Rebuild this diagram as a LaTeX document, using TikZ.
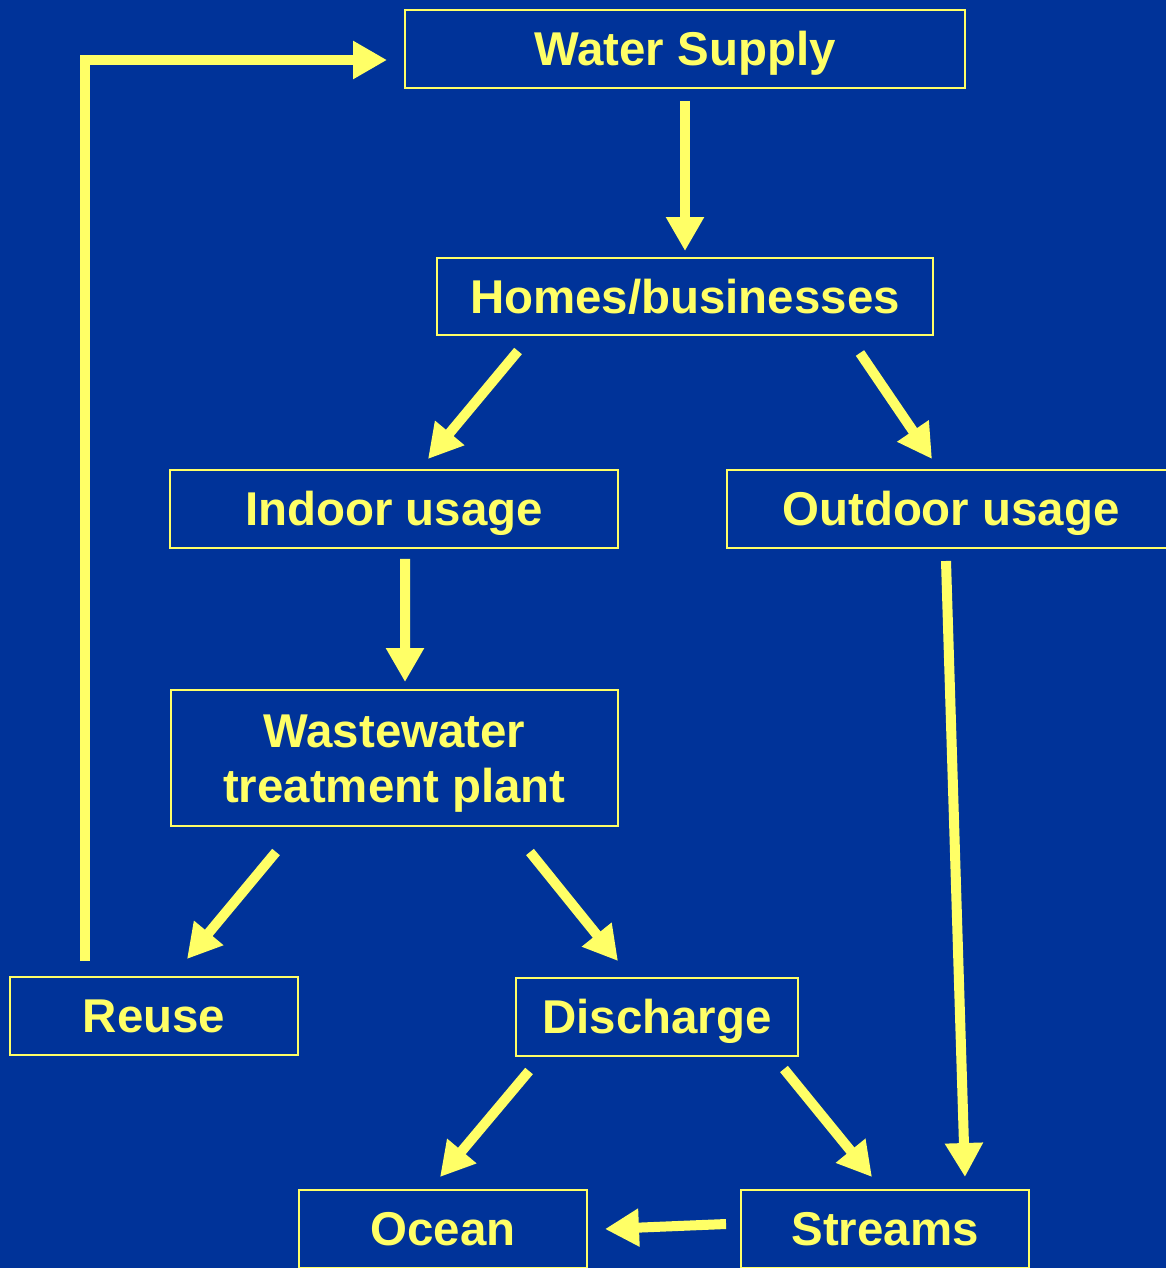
\documentclass[tikz,border=0pt]{standalone}
\usepackage{fontspec}
\setmainfont{Liberation Sans}
\usepackage{xcolor}
\usetikzlibrary{arrows.meta}
\usetikzlibrary{positioning}
\definecolor{slidebg}{HTML}{003399}
\definecolor{slideyellow}{HTML}{FFFF66}

\begin{document}
\begin{tikzpicture}[x=0.02cm,y=-0.02cm,
		box/.style={draw=slideyellow, line width=0.04cm, text=slideyellow, inner sep=0pt,
			font=\fontsize{27}{31}\selectfont\bfseries, align=center, minimum height=1.56cm,
			text height=19.3pt, text depth=0pt},
		flow/.style={draw=slideyellow, line width=0.2cm,
			-{Triangle[length=0.68cm,width=0.72cm]}}]
	% Background
	\fill[slidebg] (0,0) rectangle (1166,1268);
	\useasboundingbox (0,0) rectangle (1166,1268);
	% Boxes
	\node[box, minimum width=11.2cm] (water) at (685,49) {Water Supply};
	\node[box, minimum width=9.92cm, minimum height=1.54cm] (homes) at (685,296.5) {Homes/businesses};
	\node[box, minimum width=8.96cm] (indoor) at (394,509) {Indoor usage};
	\node[box, minimum width=8.96cm] (outdoor) at (951,509) {Outdoor usage};
	\node[box, minimum width=8.94cm, minimum height=2.72cm, text height=50.3pt] (wwtp) at (394.5,758) {Wastewater\\treatment plant};
	\node[box, minimum width=5.76cm] (reuse) at (154,1016) {Reuse};
	\node[box, minimum width=5.64cm] (discharge) at (657,1017) {Discharge};
	\node[box, minimum width=5.76cm] (ocean) at (443,1229) {Ocean};
	\node[box, minimum width=5.76cm] (streams) at (885,1229) {Streams};
	% Arrows
	\draw[flow, shorten <=0.24cm, shorten >=0.12cm] (water) -- (homes);
	\draw[flow] ([xshift=-3.34cm,yshift=-0.3cm]homes.south) -- ([xshift=0.68cm,yshift=0.2cm]indoor.north);
	\draw[flow] ([xshift=3.5cm,yshift=-0.34cm]homes.south) -- ([xshift=-0.38cm,yshift=0.2cm]outdoor.north);
	\draw[flow] ([xshift=0.22cm,yshift=-0.2cm]indoor.south) -- ([xshift=0.21cm,yshift=0.14cm]wwtp.north);
	\draw[flow] ([xshift=-2.37cm,yshift=-0.5cm]wwtp.south) -- ([xshift=0.66cm,yshift=0.34cm]reuse.north);
	\draw[flow] ([xshift=2.71cm,yshift=-0.5cm]wwtp.south) -- ([xshift=-0.78cm,yshift=0.32cm]discharge.north);
	\draw[flow] ([xshift=-1.38cm,yshift=0.3cm]reuse.north) |- ([xshift=-0.34cm,yshift=-0.22cm]water.west);
	\draw[flow] ([xshift=-2.56cm,yshift=-0.28cm]discharge.south) -- ([xshift=-0.06cm,yshift=0.24cm]ocean.north);
	\draw[flow] ([xshift=2.54cm,yshift=-0.24cm]discharge.south) -- ([xshift=-0.26cm,yshift=0.24cm]streams.north);
	\draw[flow] ([xshift=-0.1cm,yshift=-0.24cm]outdoor.south) -- ([xshift=1.6cm,yshift=0.24cm]streams.north);
	\draw[flow] ([xshift=-0.28cm,yshift=0.1cm]streams.west) -- ([xshift=0.34cm]ocean.east);
\end{tikzpicture}
\end{document}
